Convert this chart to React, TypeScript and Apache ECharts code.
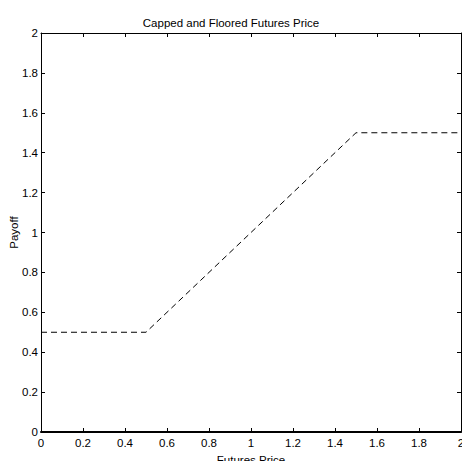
import React, { useEffect, useRef } from "react";
import * as echarts from "echarts";

const title = "Capped and Floored Futures Price";
const xName = "Futures Price";
const yName = "Payoff";
const priceX = [0, 0.5, 1.5, 2];
const payoffY = [0.5, 0.5, 1.5, 1.5];

export default function App() {
  const ref = useRef<HTMLDivElement>(null);
  useEffect(() => {
    const chart = echarts.init(ref.current!, undefined, { renderer: "svg" });
    const font = "Liberation Sans, Arial, sans-serif";
    const axisCommon = {
      type: "value" as const,
      min: 0,
      max: 2,
      interval: 0.2,
      splitLine: { show: false },
      axisLine: { show: true, onZero: false, lineStyle: { color: "#000", width: 1 } },
      axisTick: { show: true, inside: true, length: 4, lineStyle: { color: "#000" } },
    };
    const fmt = (v: number) => String(Math.round(v * 10) / 10);
    chart.setOption({
      animation: false,
      backgroundColor: "#fff",
      title: {
        text: title,
        left: "center",
        top: 12,
        textStyle: { fontFamily: font, fontSize: 11.5, fontWeight: "normal", color: "#000" },
      },
      grid: { left: 41, right: 1, top: 33, bottom: 29, containLabel: false, outerBoundsMode: "none" },
      xAxis: [
        {
          ...axisCommon,
          position: "bottom",
          axisLine: { show: true, onZero: false, lineStyle: { color: "#000", width: 2 } },
          axisLabel: { fontFamily: font, fontSize: 11.5, color: "#000", margin: 5, formatter: fmt },
          name: xName,
          nameLocation: "middle",
          nameGap: 21,
          nameTextStyle: { fontFamily: font, fontSize: 11.5, color: "#000" },
        },
        { ...axisCommon, position: "top", axisLabel: { show: false } },
      ],
      yAxis: [
        {
          ...axisCommon,
          position: "left",
          axisLabel: { fontFamily: font, fontSize: 11.5, color: "#000", margin: 3, formatter: fmt },
          name: yName,
          nameLocation: "middle",
          nameGap: 21,
          nameMoveOverlap: false,
          nameTextStyle: { fontFamily: font, fontSize: 11.5, color: "#000" },
        },
        { ...axisCommon, position: "right", axisLabel: { show: false } },
      ],
      series: [
        {
          type: "line",
          data: priceX.map((x, i) => [x, payoffY[i]]),
          showSymbol: false,
          symbol: "none",
          lineStyle: { color: "#000", width: 1, type: [6, 4] },
        },
      ],
    });
    return () => chart.dispose();
  }, []);
  return <div ref={ref} style={{ width: 462, height: 461, position: "absolute", left: 0, top: 0 }} />;
}
